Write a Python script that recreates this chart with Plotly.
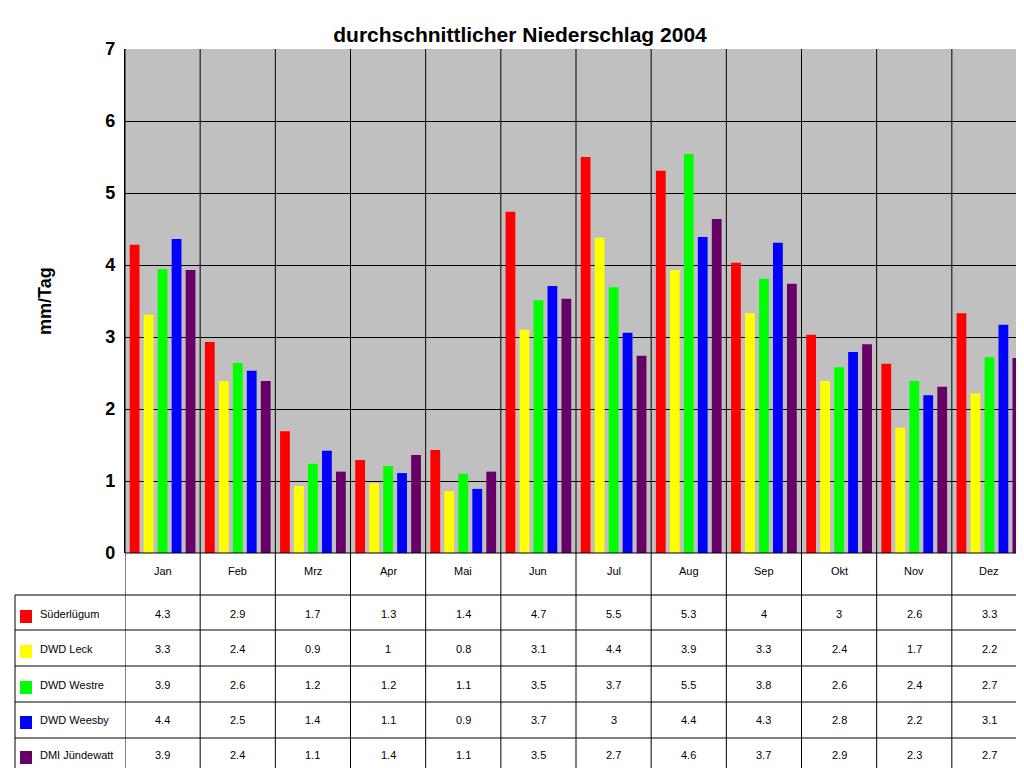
import plotly.graph_objects as go

months = ["Jan","Feb","Mrz","Apr","Mai","Jun","Jul","Aug","Sep","Okt","Nov","Dez"]
series_names = ["Süderlügum","DWD Leck","DWD Westre","DWD Weesby","DMI Jündewatt"]
colors = ["#FF0000","#FFFF00","#00FF00","#0000FF","#660066"]
sued = [4.28,2.93,1.69,1.29,1.43,4.74,5.50,5.31,4.03,3.03,2.63,3.33]
leck = [3.31,2.39,0.93,0.97,0.86,3.10,4.38,3.93,3.33,2.39,1.74,2.22]
westre = [3.94,2.64,1.24,1.21,1.10,3.51,3.69,5.54,3.81,2.58,2.39,2.72]
weesby = [4.36,2.53,1.42,1.11,0.89,3.71,3.06,4.39,4.31,2.79,2.19,3.17]
juende = [3.93,2.39,1.13,1.36,1.13,3.53,2.74,4.64,3.74,2.90,2.31,2.71]
values = [sued, leck, westre, weesby, juende]
table = [
    ["4.3","2.9","1.7","1.3","1.4","4.7","5.5","5.3","4","3","2.6","3.3"],
    ["3.3","2.4","0.9","1","0.8","3.1","4.4","3.9","3.3","2.4","1.7","2.2"],
    ["3.9","2.6","1.2","1.2","1.1","3.5","3.7","5.5","3.8","2.6","2.4","2.7"],
    ["4.4","2.5","1.4","1.1","0.9","3.7","3","4.4","4.3","2.8","2.2","3.1"],
    ["3.9","2.4","1.1","1.4","1.1","3.5","2.7","4.6","3.7","2.9","2.3","2.7"],
]

L, R, T, B = 117, 5, 41, 223
W, H = 1024, 768
pw, ph = W - L - R, H - T - B
def py(px): return (H - B - px) / ph
def px_(x): return (x - L) / pw

fig = go.Figure()
for n, c, v in zip(series_names, colors, values):
    fig.add_trace(go.Bar(x=list(range(12)), y=v, name=n, marker_color=c,
                         marker_line_width=0))

shapes, ann = [], []
line = dict(color="black", width=1)
# vertical category separators
for i in range(13):
    shapes.append(dict(type="line", xref="x", yref="paper", x0=i-0.5, x1=i-0.5,
                       y0=1, y1=py(762), line=line, layer="above"))
# table horizontal lines
for yy in [587, 622, 658, 694, 730, 762]:
    shapes.append(dict(type="line", xref="paper", yref="paper", x0=px_(7), x1=px_(1019),
                       y0=py(yy), y1=py(yy), line=line))
shapes.append(dict(type="line", xref="paper", yref="paper", x0=px_(7), x1=px_(7),
                   y0=py(587), y1=py(762), line=line))
shapes.append(dict(type="line", xref="paper", yref="paper", x0=0, x1=1,
                   y0=0, y1=0, line=line))
for i, m in enumerate(months):
    ann.append(dict(x=i, y=py(571), xref="x", yref="paper", text=m, showarrow=False,
                    font=dict(size=11, color="black")))
row_y = [614, 649, 685, 720, 755]
for r, (n, c) in enumerate(zip(series_names, colors)):
    yc = row_y[r]
    shapes.append(dict(type="rect", xref="paper", yref="paper", x0=px_(12), x1=px_(24),
                       y0=py(yc+1), y1=py(yc-12), fillcolor=c, line=dict(width=0)))
    ann.append(dict(x=px_(30), y=py(yc), xref="paper", yref="paper", text=n, showarrow=False,
                    xanchor="left", font=dict(size=11, color="black")))
    for i in range(12):
        ann.append(dict(x=i, y=py(yc), xref="x", yref="paper", text=table[r][i],
                        showarrow=False, font=dict(size=11, color="black")))
ann.append(dict(x=px_(25), y=py(293), xref="paper", yref="paper", text="<b>mm/Tag</b>",
                textangle=-90, showarrow=False, font=dict(size=18, color="black")))

fig.update_layout(
    width=W, height=H, margin=dict(l=L, r=R, t=T, b=B),
    title=dict(text="<b>durchschnittlicher Niederschlag 2004</b>", x=0.5, xanchor="center",
               y=1-27/H, yanchor="middle", font=dict(size=21, color="black")),
    font=dict(family="Liberation Sans, Arial, sans-serif", color="black"),
    paper_bgcolor="white", plot_bgcolor="#C0C0C0",
    barmode="group", bargap=0.07, bargroupgap=0.3, showlegend=False,
    shapes=shapes, annotations=ann,
    xaxis=dict(range=[-0.5, 11.5], showticklabels=False, showgrid=False, zeroline=False,
               showline=False),
    yaxis=dict(range=[0, 7], dtick=1, showgrid=True, gridcolor="black", gridwidth=1,
               zeroline=False, showline=True, linecolor="black", ticks="",
               tickfont=dict(size=18, color="black", family="Liberation Sans"),
               tickprefix="<b>", ticksuffix="</b> "),
)
fig.write_html("out.html")
